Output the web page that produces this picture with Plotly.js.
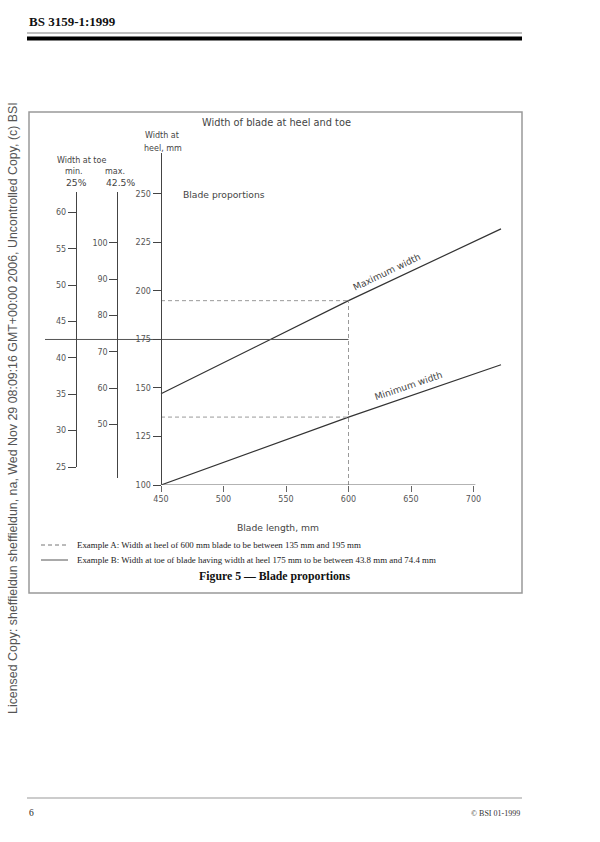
<!DOCTYPE html>
<html>
<head>
<meta charset="utf-8">
<script src="https://cdn.plot.ly/plotly-3.0.1.min.js"></script>
<style>html,body{margin:0;padding:0;background:#fff;}#chart{width:600px;height:842px;}</style>
</head>
<body>
<div id="chart"></div>
<script>
// ---- data ----
const bladeLength = [450, 600, 722];          // mm
const maxHeelWidth = [147, 195, 232];         // mm, "Maximum width"
const minHeelWidth = [100, 135, 162];         // mm, "Minimum width"
const exampleA_length = 600;                  // mm
const exampleA_heel = [135, 195];             // mm
const exampleB_heel = 175;                    // mm
const xTicks = [450, 500, 550, 600, 650, 700];
const heelTicks = [100, 125, 150, 175, 200, 225, 250];
const toeMinTicks = [25, 30, 35, 40, 45, 50, 55, 60];
const toeMaxTicks = [50, 60, 70, 80, 90, 100];

// ---- page geometry helpers (pixels -> paper) ----
const W = 600, H = 842;
const px = x => x / W;
const py = y => 1 - y / H;

const drawFont = {family: 'DejaVu Sans, sans-serif', size: 8, color: '#555'};
const textFont = {family: 'DejaVu Sans, sans-serif', size: 9.2, color: '#444'};
const titleFont = {family: 'DejaVu Sans, sans-serif', size: 9.8, color: '#444'};
const smallFont = {family: 'DejaVu Sans, sans-serif', size: 8, color: '#444'};
const serif = 'Liberation Serif, DejaVu Serif, serif';

const xRange = [357.2, 723.6];

const traces = [
  {x: bladeLength, y: maxHeelWidth, mode: 'lines', line: {color: '#333', width: 1.2}, xaxis: 'x', yaxis: 'y'},
  {x: bladeLength, y: minHeelWidth, mode: 'lines', line: {color: '#333', width: 1.2}, xaxis: 'x', yaxis: 'y'},
  // Example A (dashed)
  {x: [exampleA_length, exampleA_length], y: [heelTicks[0], exampleA_heel[1]], mode: 'lines',
   line: {color: '#999', width: 1, dash: '4px,3px'}},
  {x: [bladeLength[0], exampleA_length], y: [exampleA_heel[1], exampleA_heel[1]], mode: 'lines',
   line: {color: '#999', width: 1, dash: '4px,3px'}},
  {x: [bladeLength[0], exampleA_length], y: [exampleA_heel[0], exampleA_heel[0]], mode: 'lines',
   line: {color: '#999', width: 1, dash: '4px,3px'}},
  // Example B (solid)
  {x: [xRange[0], exampleA_length], y: [exampleB_heel, exampleB_heel], mode: 'lines',
   line: {color: '#555', width: 1}},
  // placeholders for the toe scales
  {x: [null], y: [null], xaxis: 'x2', yaxis: 'y2', mode: 'lines'},
  {x: [null], y: [null], xaxis: 'x3', yaxis: 'y3', mode: 'lines'}
].map(t => Object.assign({showlegend: false, hoverinfo: 'skip'}, t));

const axisCommon = {
  showgrid: false, zeroline: false, showline: true, linecolor: '#444', linewidth: 1,
  ticks: 'outside', ticklen: 8, tickcolor: '#444', tickwidth: 1, tickfont: drawFont, fixedrange: true
};

function ann(text, x, y, opts) {
  return Object.assign({text: text, x: px(x), y: py(y), xref: 'paper', yref: 'paper',
    showarrow: false, xanchor: 'left', yanchor: 'middle', font: textFont}, opts || {});
}

const annotations = [
  ann('BS 3159-1:1999', 27, 22, {font: {family: serif, size: 13, color: '#111', weight: 'bold'}}),
  ann('Licensed Copy: sheffieldun sheffieldun, na, Wed Nov 29 08:09:16 GMT+00:00 2006, Uncontrolled Copy, (c) BSI',
      13, 408, {xanchor: 'center', textangle: -90, font: {family: 'Liberation Sans, Arial, sans-serif', size: 12.4, color: '#555'}}),
  ann('6', 27, 813, {font: {family: serif, size: 9.5, color: '#222'}}),
  ann('© BSI 01-1999', 522, 813, {xanchor: 'right', font: {family: serif, size: 8, color: '#333'}}),
  ann('Width of blade at heel and toe', 200, 123, {font: titleFont}),
  ann('Width at', 162, 136, {xanchor: 'center', font: smallFont}),
  ann('heel, mm', 163, 148, {xanchor: 'center', font: smallFont}),
  ann('Width at toe', 55, 161, {font: smallFont}),
  ann('min.', 74, 171.5, {xanchor: 'center', font: smallFont}),
  ann('max.', 115, 171.5, {xanchor: 'center', font: smallFont}),
  ann('25%', 76, 183, {xanchor: 'center'}),
  ann('42.5%', 120, 183, {xanchor: 'center'}),
  ann('Blade proportions', 181, 194),
  {text: 'Maximum width', x: 631, y: 209.8, xref: 'x', yref: 'y', showarrow: false, textangle: -25.7,
   xanchor: 'center', yanchor: 'middle', font: textFont},
  {text: 'Minimum width', x: 648, y: 151.3, xref: 'x', yref: 'y', showarrow: false, textangle: -18.9,
   xanchor: 'center', yanchor: 'middle', font: textFont},
  ann('Example A: Width at heel of 600 mm blade to be between 135 mm and 195 mm', 75, 545,
      {font: {family: serif, size: 8.9, color: '#222'}}),
  ann('Example B: Width at toe of blade having width at heel 175 mm to be between 43.8 mm and 74.4 mm', 75, 560,
      {font: {family: serif, size: 8.9, color: '#222'}}),
  ann('Figure 5 — Blade proportions', 274.5, 576, {xanchor: 'center',
      font: {family: serif, size: 11.8, color: '#111', weight: 'bold'}}),
  ann('Blade length, mm', 278, 527, {xanchor: 'center'})
];

function pline(x0, y0, x1, y1, color, width, dash) {
  return {type: 'line', xref: 'paper', yref: 'paper', x0: px(x0), y0: py(y0), x1: px(x1), y1: py(y1),
    line: {color: color, width: width, dash: dash || 'solid'}, layer: 'above'};
}

const shapes = [
  pline(27, 33, 522, 33, '#aaa', 1.5),
  pline(27, 38.5, 522, 38.5, '#000', 4),
  {type: 'rect', xref: 'paper', yref: 'paper', x0: px(29), y0: py(112), x1: px(522), y1: py(593),
   line: {color: '#999', width: 1.5}},
  pline(27, 798, 522, 798, '#999', 1),
  pline(41, 545, 68, 545, '#777', 1, '4px,3px'),
  pline(41, 560, 68, 560, '#555', 1),
  // x axis line (450 -> 700)
  {type: 'line', xref: 'x', yref: 'y', x0: xTicks[0], x1: xTicks[xTicks.length - 1] + 1.5, y0: heelTicks[0], y1: heelTicks[0],
   line: {color: '#666', width: 1}}
];

const layout = {
  width: W, height: H, margin: {l: 0, r: 0, t: 0, b: 0}, paper_bgcolor: '#fff', plot_bgcolor: 'rgba(0,0,0,0)',
  showlegend: false, hovermode: false,
  xaxis: {domain: [px(45), px(503)], range: xRange, showgrid: false, zeroline: false, showline: false,
    ticks: 'outside', ticklen: 6, tickcolor: '#666', tickvals: xTicks, tickfont: drawFont, fixedrange: true, anchor: 'y'},
  yaxis: Object.assign({}, axisCommon, {domain: [py(485), py(153)], range: [100, 271.1], tickvals: heelTicks,
    anchor: 'free', position: px(160.5)}),
  xaxis2: {domain: [px(76.7), px(77.7)], range: [0, 1], visible: false, fixedrange: true},
  yaxis2: Object.assign({}, axisCommon, {domain: [py(467), py(192)], range: [25, 62.8], tickvals: toeMinTicks,
    anchor: 'x2'}),
  xaxis3: {domain: [px(118.3), px(119.3)], range: [0, 1], visible: false, fixedrange: true},
  yaxis3: Object.assign({}, axisCommon, {domain: [py(478), py(192)], range: [35.3, 114.0], tickvals: toeMaxTicks,
    anchor: 'x3'}),
  annotations: annotations,
  shapes: shapes
};

Plotly.newPlot('chart', traces, layout, {staticPlot: true, displayModeBar: false});
</script>
</body>
</html>
